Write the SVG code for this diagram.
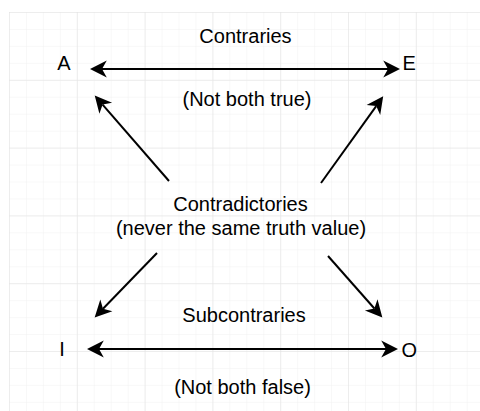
<svg xmlns="http://www.w3.org/2000/svg" width="480" height="411" viewBox="0 0 480 411">
  <style>
    text { font-family: "Liberation Sans", Arial, Helvetica, sans-serif; font-size: 20px; fill: #000; }
    .mid { text-anchor: middle; }
    .conn { stroke: #000; stroke-width: 2; fill: none; }
    .two { marker-start: url(#ah); marker-end: url(#ah); }
    .one { marker-end: url(#ah); }
  </style>
  <defs>
    <pattern id="minor" patternUnits="userSpaceOnUse" x="9" y="12" width="16.95" height="16.95">
      <path d="M0,0 H16.95 M0,0 V16.95" stroke="#f1f1f1" stroke-width="1" fill="none"/>
    </pattern>
    <pattern id="major" patternUnits="userSpaceOnUse" x="9" y="12" width="67.8" height="67.8">
      <path d="M0,0 H67.8 M0,0 V67.8" stroke="#e2e2e2" stroke-width="1" fill="none"/>
    </pattern>
    <marker id="ah" markerUnits="userSpaceOnUse" markerWidth="30" markerHeight="30" refX="0" refY="0" viewBox="-10 -10 25 20" orient="auto-start-reverse" overflow="visible">
      <path d="M10,0 L-4,-7 L0,0 L-4,7 Z" fill="#000"/>
    </marker>
  </defs>

  <rect width="480" height="411" fill="#fff"/>
  <rect x="9" y="12" width="471" height="399" fill="url(#minor)"/>
  <rect x="9" y="12" width="471" height="399" fill="url(#major)"/>

  <g id="connectors">
    <path class="conn two" d="M102,69 H388"/>
    <path class="conn two" d="M99,349 H386"/>
    <path class="conn one" d="M169,181 L102.6,104.6"/>
    <path class="conn one" d="M321,183 L376.2,106.1"/>
    <path class="conn one" d="M157,253 L103,308.8"/>
    <path class="conn one" d="M328,256 L374.4,308.5"/>
  </g>

  <g id="node-A"><text class="mid" x="64" y="70">A</text></g>
  <g id="node-E"><text x="402.5" y="70">E</text></g>
  <g id="node-I"><text class="mid" x="62" y="356">I</text></g>
  <g id="node-O"><text x="401.5" y="357">O</text></g>

  <g id="label-contraries">
    <text class="mid" x="245.5" y="42.5">Contraries</text>
    <text class="mid" x="247" y="106">(Not both true)</text>
  </g>
  <g id="label-contradictories">
    <text class="mid" x="240.5" y="211">Contradictories</text>
    <text class="mid" x="241" y="235">(never the same truth value)</text>
  </g>
  <g id="label-subcontraries">
    <text class="mid" x="244" y="322">Subcontraries</text>
    <text class="mid" x="242.5" y="394">(Not both false)</text>
  </g>
</svg>
